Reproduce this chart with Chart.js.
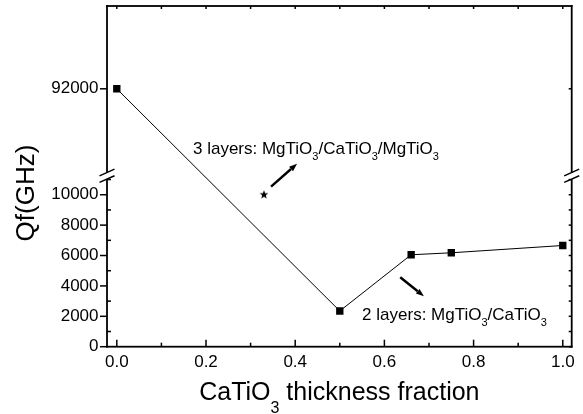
<!DOCTYPE html>
<html><head><meta charset="utf-8">
<script src="https://cdn.jsdelivr.net/npm/chart.js@4/dist/chart.umd.min.js"></script>
<style>html,body{margin:0;padding:0;background:#fff}</style>
</head><body>
<canvas id="c" width="583" height="414"></canvas>
<script>
// ---- data ----
const fractions = [0, 0.5, 0.66, 0.75, 1.0];
const qfValues = [92000, 2350, 6050, 6180, 6660];
const starFraction = [0.33];
const starQf = [10000];
const xTickValues = [0, 0.2, 0.4, 0.6, 0.8, 1.0];
const xMinorValues = [0.1, 0.3, 0.5, 0.7, 0.9];
const yTickLower = [0, 2000, 4000, 6000, 8000, 10000];
const yTickUpper = [92000];
const yMinorLower = [1000, 3000, 5000, 7000, 9000, 11000];
const xTitle = 'CaTiO_3 thickness fraction';
const yTitle = 'Qf(GHz)';
const noteTexts = ['3 layers: MgTiO_3/CaTiO_3/MgTiO_3', '2 layers: MgTiO_3/CaTiO_3'];

// ---- axis break geometry ----
const LOW_MAX = 11250, UP_MIN = 89900, UP_MAX = 94000, BREAK_FRAC = 0.5018;
const FONT = '"Liberation Sans", Arial, Helvetica, sans-serif';

class BrokenLinearScale extends Chart.LinearScale {
  buildTicks() { return yTickLower.concat(yTickUpper).map(v => ({ value: v })); }
  getPixelForValue(v) {
    if (v === null || v === undefined || isNaN(v)) return NaN;
    let d;
    if (v <= LOW_MAX) d = BREAK_FRAC * v / LOW_MAX;
    else d = BREAK_FRAC + (1 - BREAK_FRAC) * (v - UP_MIN) / (UP_MAX - UP_MIN);
    return this.getPixelForDecimal(d);
  }
  getValueForPixel(p) {
    const d = this.getDecimalForPixel(p);
    if (d <= BREAK_FRAC) return d / BREAK_FRAC * LOW_MAX;
    return UP_MIN + (d - BREAK_FRAC) / (1 - BREAK_FRAC) * (UP_MAX - UP_MIN);
  }
}
BrokenLinearScale.id = 'brokenLinear';
BrokenLinearScale.defaults = Chart.LinearScale.defaults;
Chart.register(BrokenLinearScale);

function makeStar(r) {
  const s = Math.ceil(r * 2 + 2);
  const cv = document.createElement('canvas'); cv.width = s; cv.height = s;
  const c = cv.getContext('2d'); c.fillStyle = '#000'; c.beginPath();
  for (let i = 0; i < 10; i++) {
    const a = -Math.PI / 2 + i * Math.PI / 5; const rr = i % 2 ? r * 0.42 : r;
    c.lineTo(s / 2 + rr * Math.cos(a), s / 2 + rr * Math.sin(a));
  }
  c.closePath(); c.fill(); return cv;
}

function drawRich(ctx, str, x, y, size, subSize, subDy, align) {
  const parts = str.split(/_(\d)/);
  const segs = parts.map((t, i) => ({ t, sub: i % 2 === 1 }));
  let w = 0;
  segs.forEach(s => { ctx.font = (s.sub ? subSize : size) + 'px ' + FONT; s.w = ctx.measureText(s.t).width; w += s.w; });
  let cx = align === 'center' ? x - w / 2 : x;
  ctx.textAlign = 'left'; ctx.textBaseline = 'alphabetic';
  segs.forEach(s => { ctx.font = (s.sub ? subSize : size) + 'px ' + FONT; ctx.fillText(s.t, cx, s.sub ? y + subDy : y); cx += s.w; });
}

function arrow(ctx, x1, y1, x2, y2) {
  const a = Math.atan2(y2 - y1, x2 - x1), hl = 8, hw = 3;
  const bx = x2 - hl * Math.cos(a), by = y2 - hl * Math.sin(a);
  ctx.lineWidth = 2.4; ctx.beginPath(); ctx.moveTo(x1, y1); ctx.lineTo(bx, by); ctx.stroke();
  ctx.beginPath(); ctx.moveTo(x2, y2);
  ctx.lineTo(bx + hw * Math.sin(a), by - hw * Math.cos(a));
  ctx.lineTo(bx - hw * Math.sin(a), by + hw * Math.cos(a));
  ctx.closePath(); ctx.fill();
}

const notePos = [[0.185, 0.434], [0.549, 0.922]];
const arrowPos = [[0.353, 0.530, 0.409, 0.463], [0.631, 0.796, 0.682, 0.852]];

const framePlugin = {
  id: 'frame',
  afterDraw(chart) {
    const ctx = chart.ctx, a = chart.chartArea, xs = chart.scales.x, ys = chart.scales.y;
    ctx.save();
    ctx.strokeStyle = '#000'; ctx.fillStyle = '#000';
    const line = (x1, y1, x2, y2) => { ctx.beginPath(); ctx.moveTo(x1, y1); ctx.lineTo(x2, y2); ctx.stroke(); };
    const lw = 1.8;
    ctx.fillRect(a.left - lw / 2, a.top - lw / 2, a.right - a.left + lw, lw);
    ctx.fillRect(a.left - lw / 2, a.bottom - lw / 2, a.right - a.left + lw, lw);
    ctx.fillRect(a.left - lw / 2, a.top - lw / 2, lw, a.bottom - a.top + lw);
    ctx.fillRect(a.right - lw / 2, a.top - lw / 2, lw, a.bottom - a.top + lw);
    ctx.lineWidth = 1.5;
    xTickValues.forEach(v => { const p = xs.getPixelForValue(v); line(p, a.bottom, p, a.bottom - 7); line(p, a.top, p, a.top + 3); });
    xMinorValues.forEach(v => { const p = xs.getPixelForValue(v); line(p, a.bottom, p, a.bottom - 4); line(p, a.top, p, a.top + 3); });
    yTickLower.concat(yTickUpper).forEach(v => { const p = ys.getPixelForValue(v); line(a.left, p, a.left - 7, p); line(a.right, p, a.right - 3, p); });
    yMinorLower.forEach(v => { const p = ys.getPixelForValue(v); line(a.left, p, a.left + 4, p); line(a.right, p, a.right - 3, p); });
    // axis break marks
    const yb = ys.getPixelForValue(LOW_MAX);
    [a.left, a.right].forEach(x => {
      ctx.fillStyle = '#fff'; ctx.fillRect(x - 2, yb - 3.3, 4, 6.6); ctx.fillStyle = '#000';
      ctx.lineWidth = 1.5;
      line(x - 7.5, yb + 0.1, x + 7.5, yb - 6.6);
      line(x - 7.5, yb + 6.7, x + 7.5, yb + 0.0);
    });
    // titles
    ctx.fillStyle = '#000';
    drawRich(ctx, xTitle, (a.left + a.right) / 2, 400, 25, 16, 13, 'center');
    ctx.save(); ctx.translate(26.5, 193); ctx.rotate(-Math.PI / 2);
    ctx.font = '26px ' + FONT; ctx.textAlign = 'center'; ctx.textBaseline = 'middle';
    ctx.fillText(yTitle, 0, 0); ctx.restore();
    // annotations
    const W = a.right - a.left, H = a.bottom - a.top;
    noteTexts.forEach((t, i) => drawRich(ctx, t, a.left + notePos[i][0] * W, a.top + notePos[i][1] * H, 17, 11, 6, 'left'));
    arrowPos.forEach(p => arrow(ctx, a.left + p[0] * W, a.top + p[1] * H, a.left + p[2] * W, a.top + p[3] * H));
    ctx.restore();
  }
};

new Chart(document.getElementById('c'), {
  type: 'line',
  data: {
    datasets: [
      {
        data: fractions.map((x, i) => ({ x, y: qfValues[i] })),
        borderColor: '#000', borderWidth: 1, backgroundColor: '#000',
        pointStyle: 'rect', pointRadius: 5.2, pointBorderWidth: 0, pointBackgroundColor: '#000',
        tension: 0
      },
      {
        data: starFraction.map((x, i) => ({ x, y: starQf[i] })),
        showLine: false, pointStyle: makeStar(4.6), pointRadius: 5
      }
    ]
  },
  options: {
    responsive: false, animation: false, devicePixelRatio: 1,
    layout: { padding: { left: 0, right: 11.3, top: 4.5, bottom: 0 } },
    plugins: { legend: { display: false }, tooltip: { enabled: false } },
    scales: {
      x: {
        type: 'linear', min: -0.022, max: 1.02,
        afterBuildTicks: s => { s.ticks = xTickValues.map(v => ({ value: v })); },
        afterFit: s => { s.height = 67.3; s.paddingLeft = 0; s.paddingRight = 0; },
        grid: { display: false, drawTicks: false }, border: { display: false },
        ticks: { padding: 5, color: '#000', font: { family: FONT, size: 17 }, callback: v => v.toFixed(1), autoSkip: false, maxRotation: 0 }
      },
      y: {
        type: 'brokenLinear', min: 0, max: UP_MAX,
        afterFit: s => { s.width = 107; s.paddingTop = 0; s.paddingBottom = 0; },
        grid: { display: false, drawTicks: false }, border: { display: false },
        ticks: { padding: 8.5, color: '#000', font: { family: FONT, size: 17 }, callback: v => String(v), autoSkip: false }
      }
    }
  },
  plugins: [framePlugin]
});
</script>
</body></html>
